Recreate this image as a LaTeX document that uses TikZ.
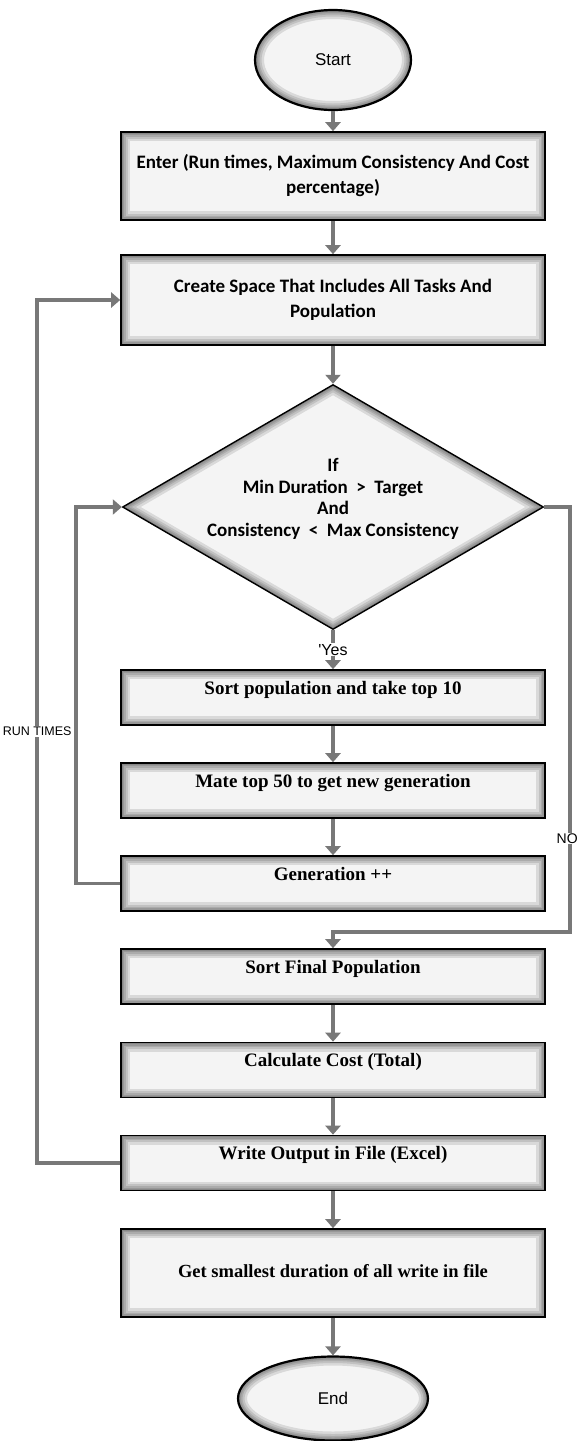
\documentclass[tikz,border=0pt]{standalone}
\usepackage{fontspec}
\setmainfont{Liberation Serif}
\newfontfamily\calibri{Carlito}
\newfontfamily\arial{Liberation Sans}
\usetikzlibrary{shapes.geometric,arrows.meta,calc}
\definecolor{linegray}{RGB}{120,120,120}
\definecolor{boxfill}{RGB}{244,244,244}

\tikzset{
  boxglow/.style={path picture={
    \foreach \w in {18,13,9,6,3}
      \draw[black,opacity=0.11,line width=\w pt]
        (path picture bounding box.south west) rectangle (path picture bounding box.north east);}},
  diamglow/.style={path picture={
    \foreach \w in {18,13,9,6,3}
      \draw[black,opacity=0.11,line width=\w pt]
        (path picture bounding box.north) -- (path picture bounding box.east)
        -- (path picture bounding box.south) -- (path picture bounding box.west) -- cycle;}},
  ovalglow/.style={path picture={
    \foreach \w in {18,13,9,6,3}
      \draw[black,opacity=0.11,line width=\w pt]
        let \p1=(path picture bounding box.north east), \p2=(path picture bounding box.center)
        in (\p2) ellipse [x radius=\x1-\x2, y radius=\y1-\y2];}},
  oval/.style={ellipse, draw=black, line width=2.2pt, fill=boxfill, ovalglow, inner sep=0pt,
    font=\arial\fontsize{17}{20}\selectfont},
  sansbox/.style={rectangle, draw=black, line width=1.6pt, fill=boxfill, boxglow,
    minimum width=424pt, align=center, font=\calibri\bfseries\fontsize{19}{25}\selectfont},
  serifbox/.style={rectangle, draw=black, line width=1.6pt, fill=boxfill, boxglow,
    minimum width=424pt, inner ysep=6pt, text height=18pt, text depth=25pt,
    font=\bfseries\fontsize{19}{23}\selectfont},
  decision/.style={diamond, aspect=1.72, draw=black, line width=1.4pt, fill=boxfill, diamglow,
    inner sep=-30pt, minimum width=421pt, minimum height=245pt, align=center,
    font=\calibri\bfseries\fontsize{19}{21.5}\selectfont},
  flow/.style={draw=linegray, line width=3.5pt, -{Triangle[width=15pt,length=9pt]}},
  tag/.style={fill=white, inner sep=1pt, font=\arial\fontsize{16}{18}\selectfont},
}

\begin{document}
\begin{tikzpicture}[x=1pt,y=-1pt]
\useasboundingbox (0,0) rectangle (582,1441);
% draw start
\node[oval, minimum width=156pt, minimum height=100pt] (start) at (333,60) {Start};
% draw input and setup
\node[sansbox, minimum height=88pt] (enter) at (333,176) {Enter (Run times, Maximum Consistency And Cost\\percentage)};
\node[sansbox, minimum height=90pt] (space) at (333,300) {Create Space That Includes All Tasks And\\Population};
% draw condition
\node[decision] (check) at (333,507) {If\\Min Duration~~>~~Target\\And\\Consistency~~<~~Max Consistency\\[-2pt]};
% draw inner loop
\node[serifbox] (sortpop) at (333,697.5) {Sort population and take top 10};
\node[serifbox] (mate) at (333,790.5) {Mate top 50 to get new generation};
\node[serifbox] (gen) at (333,883.5) {Generation ++};
% draw final steps
\node[serifbox] (sortfin) at (333,976.5) {Sort Final Population};
\node[serifbox] (cost) at (333,1070) {Calculate Cost (Total)};
\node[serifbox] (write) at (333,1163) {Write Output in File (Excel)};
\node[serifbox, text height=12pt, text depth=4pt, minimum height=88pt, font=\bfseries\fontsize{18.5}{22}\selectfont] (best) at (333,1273) {Get smallest duration of all write in file};
% draw end
\node[oval, minimum width=190pt, minimum height=84pt] (end) at (333,1398.5) {End};
% draw arrows
\draw[flow] (start.south) -- (enter.north);
\draw[flow] (enter.south) -- (space.north);
\draw[flow] (space.south) -- (check.north);
\draw[flow] (check.south) -- node[tag] {'Yes} (sortpop.north);
\draw[flow] (sortpop.south) -- (mate.north);
\draw[flow] (mate.south) -- (gen.north);
\draw[flow] (gen.west) -- ++(-44,0) |- (check.west);
\draw[flow] (check.east) -- ++(26,0) -- ++(0,425) node[tag, pos=0.78, xshift=-3pt, font=\arial\fontsize{14}{16}\selectfont] {NO} -| (sortfin.north);
\draw[flow] (sortfin.south) -- (cost.north);
\draw[flow] (cost.south) -- (write.north);
\draw[flow] (write.west) -- ++(-83,0) |- node[tag, pos=0.25, font=\arial\fontsize{12.5}{14}\selectfont] {RUN TIMES} (space.west);
\draw[flow] (write.south) -- (best.north);
\draw[flow] (best.south) -- (end.north);
\end{tikzpicture}
\end{document}
